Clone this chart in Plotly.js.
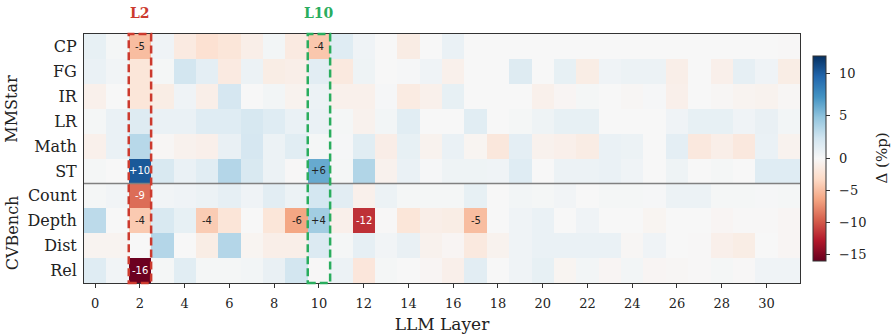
<!DOCTYPE html>
<html>
<head>
<meta charset="utf-8">
<script src="https://cdn.plot.ly/plotly-3.0.1.min.js"></script>
<style>html,body{margin:0;padding:0;background:#fff;}#chart{width:893px;height:336px;}</style>
</head>
<body>
<div id="chart"></div>
<script>
// ---- data ----
const layers = [0,1,2,3,4,5,6,7,8,9,10,11,12,13,14,15,16,17,18,19,20,21,22,23,24,25,26,27,28,29,30,31];
const taskNames = ['CP','FG','IR','LR','Math','ST','Count','Depth','Dist','Rel'];
const groupNames = ['MMStar','CVBench'];
const groupSizes = [6,4];
const highlightLayers = [2,10];
const highlightLabels = ['L2','L10'];
const highlightColors = ['#cc3a2e','#2aad5e'];
const cbTickVals = [-15,-10,-5,0,5,10];
const cbTitle = '\u0394 (%p)';

const cp    = [1.0,0.2,-5.0,0.5,-1.5,-2.5,-2.0,-1.0,0.3,-1.5,-4.4,1.5,0.5,0.0,-1.3,0.0,0.8,0,0,0,0,0,0,0,0,0,0,0,0,0,0,-0.1];
const fg    = [0.8,0.4,-2.0,0.2,2.3,1.2,-1.5,0.7,-1.2,-1.0,1.3,-1.6,0.6,0.0,0.1,0.5,-0.8,0,0,1.6,0,1.0,-1.2,0.5,0.7,0.7,-1.0,0,-0.9,1.1,0.5,-1.2];
const ir    = [-0.8,0,-2.0,-1.2,0.5,-1.0,2.1,0,0.3,-0.6,0.7,-0.8,-0.8,0.1,-1.4,-0.8,1.0,0,0,0,-0.8,-0.3,0.2,0,-0.2,0.1,-0.9,0,-0.2,-0.5,-0.6,-0.2];
const lr    = [0.2,0.8,1.6,0.8,0.8,1.5,1.5,2.0,1.5,0.8,0.8,0.2,-0.7,0.3,1.4,0,0,1.4,0,0.2,0.6,1.0,1.0,0,0,0,0.5,1.0,1.0,0.5,0.9,0.3];
const math  = [-0.8,0.8,3.4,-0.2,-0.7,-0.9,0.9,2.1,0.7,1.4,0.2,0.1,1.4,-1.1,1.0,-0.6,0.8,-0.4,-1.8,1.2,-0.7,-0.9,-1.3,0.8,0.7,0,1.2,-1.7,-1.0,-1.7,0.8,-0.6];
const st    = [0.2,0,10.2,1.9,0.8,1.4,3.5,1.9,0.7,-0.1,6.1,0.2,3.6,-0.7,0.8,0.1,0.6,0.6,0.5,1.5,0,0.7,0.7,0.8,0.5,0,0.6,0,0.2,0,1.5,1.5];
const count = [0.2,0.4,-9.0,0.4,0.5,0.7,1.1,0.5,1.3,0.7,2.2,1.3,-0.8,0.7,0.2,0.2,0.2,1.0,0,0.3,0.2,0.4,0,0.2,0.2,0.1,0.7,0.7,0.2,0.2,0.1,0.2];
const depth = [3.2,0,-4.2,1.9,1.0,-4.1,-2.1,0,-2.0,-6.3,4.2,-0.9,-11.7,-0.1,-2.0,-1.0,-1.2,-5.0,0,0.5,0.8,0,0.5,0,0,-0.4,0,0,-0.3,-0.1,-0.1,-0.3];
const dist  = [-0.5,-0.5,0,3.5,0,-1.2,3.5,-0.4,-1.0,-1.0,1.7,0.2,1.1,0.4,0.9,-0.7,-0.3,-1.6,-0.6,0.5,0.8,0.8,0.8,0.8,-0.2,0.5,0,-0.1,-0.9,-1.2,0,-0.3];
const rel   = [1.5,0.4,-15.8,0.2,1.4,0.2,0.2,0.3,0.9,2.3,-0.1,0.7,-1.9,0.2,0,-0.3,-0.9,1.3,0,0.5,1.0,-0.4,0.3,-0.3,0.3,-0.3,-0.2,-0.1,0.2,-0.1,0.5,0.5];

const vmin = -16, vmax = 12, labelThreshold = 4;
// ---- build ----
const rows = [cp,fg,ir,lr,math,st,count,depth,dist,rel];
const norm = v => v < 0 ? v / -vmin : v / vmax;   // two-slope norm centred at 0
const rdbu = [[0,'#67001f'],[0.1,'#b2182b'],[0.2,'#d6604d'],[0.3,'#f4a582'],[0.4,'#fddbc7'],
  [0.5,'#f7f7f7'],[0.6,'#d1e5f0'],[0.7,'#92c5de'],[0.8,'#4393c3'],[0.9,'#2166ac'],[1,'#053061']];
const FONT = 'DejaVu Serif, serif';

const trace = {
  type:'heatmap', x: layers, y: taskNames,
  z: rows.map(r => r.map(norm)), customdata: rows,
  zmin:-1, zmax:1, colorscale: rdbu,
  hovertemplate:'%{y} L%{x}: %{customdata}<extra></extra>',
  colorbar:{
    x:1.018, xanchor:'left', xpad:0, y:0.5, yanchor:'middle', ypad:0, len:0.823, thickness:13,
    outlinewidth:1, outlinecolor:'#333',
    tickvals: cbTickVals.map(norm),
    ticktext: cbTickVals.map(v => '\u2002' + (v < 0 ? '\u2212' + (-v) : String(v))),
    ticks:'outside', ticklen:4, tickcolor:'#333', tickfont:{family:FONT,size:13,color:'#222'}
  }
};

const annotations = [];
rows.forEach((r, i) => r.forEach((v, j) => {
  if (Math.abs(v) >= labelThreshold) {
    const n = Math.round(v);
    annotations.push({x: layers[j], y: taskNames[i], xref:'x', yref:'y', showarrow:false,
      text: (n > 0 ? '+' : '') + n,
      font:{family:'DejaVu Sans, sans-serif', size:10, color: Math.abs(v) >= 8 ? '#fff' : '#222'}});
  }
}));
highlightLayers.forEach((L, k) => {
  annotations.push({x: L, y:1, xref:'x', yref:'paper', yanchor:'middle', yshift:21, showarrow:false,
    text:'<b>' + highlightLabels[k] + '</b>', font:{family:FONT, size:14, color: highlightColors[k]}});
});
let start = 0;
groupNames.forEach((g, k) => {
  const mid = start + (groupSizes[k] - 1) / 2;
  annotations.push({x:0, xref:'paper', xanchor:'center', xshift:-72, y: mid, yref:'y', yanchor:'middle',
    textangle:-90, showarrow:false, text:g, font:{family:FONT, size:16, color:'#222'}});
  start += groupSizes[k];
});
annotations.push({x:1, xref:'paper', xanchor:'center', xshift:81, y:0.5, yref:'paper', yanchor:'middle',
  textangle:-90, showarrow:false, text:cbTitle, font:{family:FONT, size:15, color:'#222'}});

const shapes = [];
shapes.push({type:'line', xref:'paper', x0:0, x1:1, yref:'y', y0: groupSizes[0] - 0.5, y1: groupSizes[0] - 0.5,
  line:{color:'#808080', width:1.5}});
highlightLayers.forEach((L, k) => {
  shapes.push({type:'rect', xref:'x', x0: L - 0.5, x1: L + 0.5, yref:'paper', y0:0, y1:1,
    line:{color: highlightColors[k], width:2.5, dash:'8px,4px'}});
});

const layout = {
  width:893, height:336, margin:{l:84, r:93, t:34, b:53, autoexpand:false},
  paper_bgcolor:'#fff', plot_bgcolor:'#fff',
  font:{family:FONT, color:'#222'},
  xaxis:{range:[-0.5,31.5], tickvals: layers.filter(l => l % 2 === 0), ticks:'outside', ticklen:4, tickcolor:'#333',
    showline:true, mirror:true, linecolor:'#333', linewidth:1, showgrid:false, zeroline:false,
    ticklabelstandoff:4,
    tickfont:{family:FONT, size:13, color:'#222'},
    title:{text:'LLM Layer', font:{family:FONT, size:17, color:'#222'}, standoff:8}},
  yaxis:{autorange:'reversed', type:'category', ticks:'outside', ticklen:3, tickcolor:'rgba(0,0,0,0)',
    showline:true, mirror:true, linecolor:'#333', linewidth:1, showgrid:false, zeroline:false,
    tickfont:{family:FONT, size:16, color:'#222'}},
  annotations, shapes
};
Plotly.newPlot('chart', [trace], layout, {displayModeBar:false, staticPlot:true});
</script>
</body>
</html>
